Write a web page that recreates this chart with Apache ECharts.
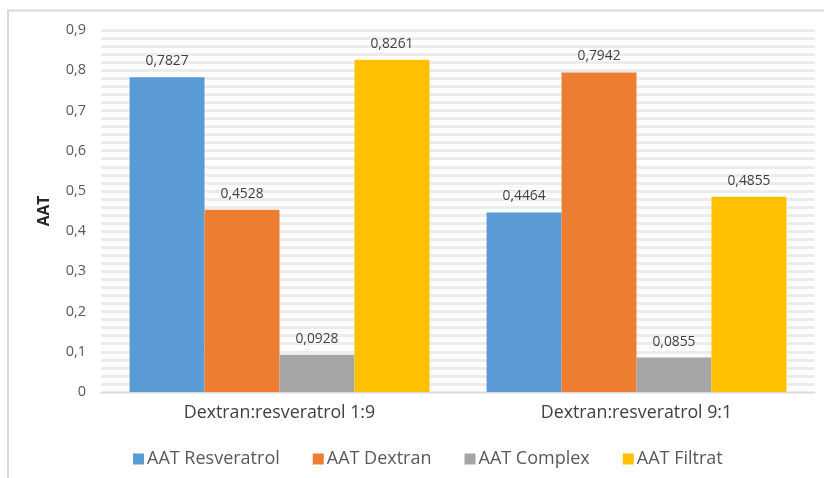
<!DOCTYPE html>
<html>
<head>
<meta charset="utf-8">
<script src="https://cdn.jsdelivr.net/npm/echarts@6/dist/echarts.min.js"></script>
<style>
  html, body { margin: 0; padding: 0; background: #ffffff; }
  #chart { width: 824px; height: 478px; }
</style>
</head>
<body>
<div id="chart"></div>
<script>
// Sample groups on the x axis
const categories = ['Dextran:resveratrol 1:9', 'Dextran:resveratrol 9:1'];

// AAT measured for each fraction
const seriesNames = ['AAT Resveratrol', 'AAT Dextran', 'AAT Complex', 'AAT Filtrat'];
const aatResveratrol = [0.7827, 0.4464];
const aatDextran = [0.4528, 0.7942];
const aatComplex = [0.0928, 0.0855];
const aatFiltrat = [0.8261, 0.4855];

const seriesColors = ['#5b9bd5', '#ed7d31', '#a5a5a5', '#ffc000'];
const values = [aatResveratrol, aatDextran, aatComplex, aatFiltrat];

const font = '"Open Sans", "Liberation Sans", sans-serif';
const comma = v => String(v).replace('.', ',');

const chart = echarts.init(document.getElementById('chart'), null, { renderer: 'canvas' });

chart.setOption({
  animation: false,
  backgroundColor: '#ffffff',
  textStyle: { fontFamily: font },
  graphic: [
    // chart frame, top and left edges
    { type: 'line', shape: { x1: 7, y1: 10.5, x2: 824, y2: 10.5 }, style: { stroke: '#d9d9d9', lineWidth: 2 } },
    { type: 'line', shape: { x1: 8, y1: 10, x2: 8, y2: 478 }, style: { stroke: '#d9d9d9', lineWidth: 2 } }
  ],
  grid: { left: 101, right: 9, top: 30, bottom: 86 },
  legend: {
    bottom: 5,
    left: 128,
    itemWidth: 11,
    itemHeight: 11,
    itemGap: 33,
    icon: 'rect',
    textStyle: { fontSize: 18, color: '#595959', fontFamily: font, padding: [0, 0, 0, -2] },
    data: seriesNames
  },
  xAxis: {
    type: 'category',
    data: categories,
    axisLine: { lineStyle: { color: '#d9d9d9', width: 1 } },
    axisTick: { show: false },
    axisLabel: { fontSize: 17.8, color: '#404040', margin: 12, fontFamily: font }
  },
  yAxis: {
    type: 'value',
    min: 0,
    max: 0.9,
    interval: 0.1,
    name: 'AAT',
    nameLocation: 'middle',
    nameGap: 48,
    nameRotate: 90,
    nameTextStyle: { fontSize: 15.5, fontWeight: 'bold', color: '#262626', fontFamily: font },
    axisLine: { show: false },
    axisTick: { show: false },
    axisLabel: {
      fontSize: 14.5, color: '#595959', margin: 15, fontFamily: font,
      formatter: v => comma(Math.round(v * 10) / 10)
    },
    splitLine: { lineStyle: { color: '#ececec', width: 3 } },
    minorTick: { show: false, splitNumber: 5 },
    minorSplitLine: { show: true, lineStyle: { color: '#ececec', width: 3 } }
  },
  series: seriesNames.map((name, i) => ({
    name,
    type: 'bar',
    data: values[i],
    barGap: '0%',
    barCategoryGap: '16%',
    itemStyle: { color: seriesColors[i] },
    label: {
      show: true,
      position: 'top',
      distance: 9,
      fontSize: 13.8,
      color: '#404040',
      fontFamily: font,
      formatter: p => comma(p.value)
    }
  }))
});
</script>
</body>
</html>
